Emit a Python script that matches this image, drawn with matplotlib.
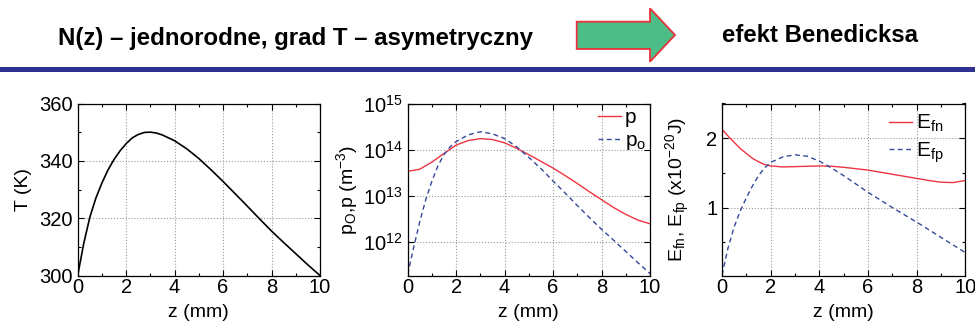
import matplotlib
matplotlib.use("Agg")
import matplotlib.pyplot as plt
from matplotlib.patches import Polygon, Rectangle
from matplotlib.ticker import MultipleLocator, LogLocator, NullLocator, NullFormatter

# T(z) panel
T_z = [0, 0.25, 0.5, 0.75, 1, 1.25, 1.5, 1.75, 2, 2.25, 2.5, 2.75, 3, 3.25, 3.5,
       4, 4.5, 5, 5.5, 6, 6.5, 7, 7.5, 8, 8.5, 9, 9.5, 10]
T_K = [300, 311.2, 320.3, 327.0, 332.3, 336.8, 340.5, 343.5, 346.0, 348.0, 349.2,
       349.9, 350.0, 349.7, 349.0, 347.0, 344.2, 340.8, 336.9, 332.8, 328.5, 324.2,
       319.8, 315.5, 311.5, 307.6, 303.7, 300]

# hole densities (m^-3)
p_z = [0, 0.5, 1, 1.5, 2, 2.5, 3, 3.5, 4, 4.5, 5, 5.5, 6, 6.5, 7, 7.5, 8, 8.5,
       9, 9.5, 10]
p = [3.4e13, 3.8e13, 5.4e13, 8.3e13, 1.26e14, 1.58e14, 1.74e14, 1.66e14, 1.41e14,
     1.07e14, 7.8e13, 5.6e13, 4.0e13, 2.75e13, 1.86e13, 1.23e13, 8.3e12, 5.6e12,
     4.0e12, 3.0e12, 2.5e12]
po_z = [0, 0.25, 0.5, 0.75, 1, 1.25, 1.5, 1.75, 2, 2.5, 3, 3.5, 4, 4.5, 5, 5.5,
        6, 6.5, 7, 7.5, 8, 8.5, 9, 9.5, 10]
po = [2.0e11, 7.9e11, 2.8e12, 8.5e12, 2.1e13, 4.5e13, 7.9e13, 1.15e14, 1.5e14,
      2.1e14, 2.45e14, 2.2e14, 1.74e14, 1.15e14, 6.8e13, 3.9e13, 2.1e13, 1.15e13,
      6.2e12, 3.4e12, 1.9e12, 1.1e12, 6.3e11, 3.6e11, 2.1e11]

# quasi-Fermi levels (x10^-20 J)
efn_z = [0, 0.25, 0.5, 0.75, 1, 1.25, 1.5, 1.75, 2, 2.5, 3, 3.5, 4, 4.5, 5, 5.5,
         6, 6.5, 7, 7.5, 8, 8.5, 9, 9.5, 10]
efn = [2.13, 2.03, 1.94, 1.85, 1.78, 1.71, 1.66, 1.62, 1.60, 1.585, 1.59, 1.595,
       1.60, 1.595, 1.58, 1.56, 1.54, 1.51, 1.48, 1.45, 1.42, 1.39, 1.365, 1.36, 1.39]
efp_z = [0, 0.25, 0.5, 0.75, 1, 1.25, 1.5, 1.75, 2, 2.5, 3, 3.5, 4, 4.5, 5, 5.5,
         6, 6.5, 7, 7.5, 8, 8.5, 9, 9.5, 10]
efp = [0.03, 0.42, 0.72, 0.95, 1.14, 1.31, 1.46, 1.57, 1.65, 1.73, 1.76, 1.74,
       1.67, 1.57, 1.46, 1.34, 1.22, 1.11, 1.00, 0.895, 0.79, 0.68, 0.57, 0.46, 0.35]

plt.rcParams["font.family"] = ["Liberation Sans", "DejaVu Sans"]
plt.rcParams["mathtext.fontset"] = "custom"
plt.rcParams["mathtext.rm"] = "Liberation Sans"
plt.rcParams["mathtext.it"] = "Liberation Sans"
plt.rcParams["mathtext.default"] = "rm"

RED = "#ee3442"
BLUE = "#34489c"
FS = 14

W, H = 975, 331
fig = plt.figure(figsize=(W / 100, H / 100), dpi=100)


def fx(x):
    return x / W


def fy(y):
    return 1 - y / H


# header
fig.text(fx(58), fy(38.5), "N(z) \u2013 jednorodne, grad T \u2013 asymetryczny",
         weight="bold", fontsize=17.3, va="center", ha="left")
fig.text(fx(722), fy(35.5), "efekt Benedicksa",
         weight="bold", fontsize=17.3, va="center", ha="left")
arrow = [(576.7, 21.7), (650, 21.7), (650, 8.3), (675, 35), (650, 61.7), (650, 49), (576.7, 49)]
fig.add_artist(Polygon([(fx(a), fy(b)) for a, b in arrow], closed=True,
                       facecolor="#4dbd88", edgecolor="#e8333b", linewidth=1.3,
                       transform=fig.transFigure))
fig.add_artist(Rectangle((0, fy(71.7)), 1, 5 / H, facecolor="#2e3192",
                         edgecolor="none", transform=fig.transFigure))


def style(ax, label_x):
    ax.grid(True, which="major", linestyle=":", color="#9a9a9a", linewidth=0.8)
    ax.tick_params(which="both", direction="in", top=True, right=True,
                   labelsize=FS + 0.5, pad=2, width=0.8)
    ax.tick_params(axis="y", which="both", pad=3.5)
    ax.tick_params(which="major", length=4)
    ax.tick_params(which="minor", length=2.5)
    ax.set_xlim(0, 10)
    ax.xaxis.set_major_locator(MultipleLocator(2))
    ax.xaxis.set_minor_locator(MultipleLocator(1))
    ax.set_xlabel("z (mm)", fontsize=FS, labelpad=5)
    ax.yaxis.set_label_coords(label_x, 0.5)
    for s in ax.spines.values():
        s.set_linewidth(0.9)


bottom, height = fy(275.5), (275.5 - 103.5) / H

ax1 = fig.add_axes([fx(77.7), bottom, (320 - 77.7) / W, height])
ax1.plot(T_z, T_K, color="black", linewidth=1.2)
ax1.set_ylim(300, 360)
ax1.yaxis.set_major_locator(MultipleLocator(20))
ax1.yaxis.set_minor_locator(MultipleLocator(10))
ax1.set_ylabel("T (K)", fontsize=FS)
style(ax1, -0.19)

ax2 = fig.add_axes([fx(407.7), bottom, (650 - 407.7) / W, height])
ax2.plot(p_z, p, color=RED, linewidth=1.0, label="p")
ax2.plot(po_z, po, color=BLUE, linewidth=1.0, linestyle=(0, (3.5, 2.5)), label="p$_\\mathrm{o}$")
ax2.set_yscale("log")
ax2.set_ylim(1.9e11, 1e15)
ax2.yaxis.set_major_locator(LogLocator(base=10, numticks=10))
ax2.yaxis.set_minor_locator(NullLocator())
ax2.yaxis.set_minor_formatter(NullFormatter())
ax2.set_ylabel("p$_\\mathrm{O}$,p (m$^{-3}$)", fontsize=FS)
style(ax2, -0.195)
ax2.legend(loc="upper left", bbox_to_anchor=(0.785, 0.975), frameon=False,
           fontsize=FS + 1, handlelength=1.1, handletextpad=0.2, labelspacing=0.2,
           borderaxespad=0, borderpad=0)

ax3 = fig.add_axes([fx(722), bottom, (965.3 - 722) / W, height])
ax3.plot(efn_z, efn, color=RED, linewidth=1.0, label="E$_\\mathrm{fn}$")
ax3.plot(efp_z, efp, color=BLUE, linewidth=1.0, linestyle=(0, (3.5, 2.5)), label="E$_\\mathrm{fp}$")
ax3.set_ylim(0.02, 2.5)
ax3.yaxis.set_major_locator(MultipleLocator(1))
ax3.yaxis.set_minor_locator(MultipleLocator(0.5))
ax3.set_ylabel("E$_\\mathrm{fn}$, E$_\\mathrm{fp}$ (x10$^{-20}$J)", fontsize=FS)
style(ax3, -0.125)
ax3.legend(loc="upper left", bbox_to_anchor=(0.686, 0.945), frameon=False,
           fontsize=FS + 1, handlelength=1.1, handletextpad=0.2, labelspacing=0.3,
           borderaxespad=0, borderpad=0)

fig.savefig("out.png", dpi=100)
